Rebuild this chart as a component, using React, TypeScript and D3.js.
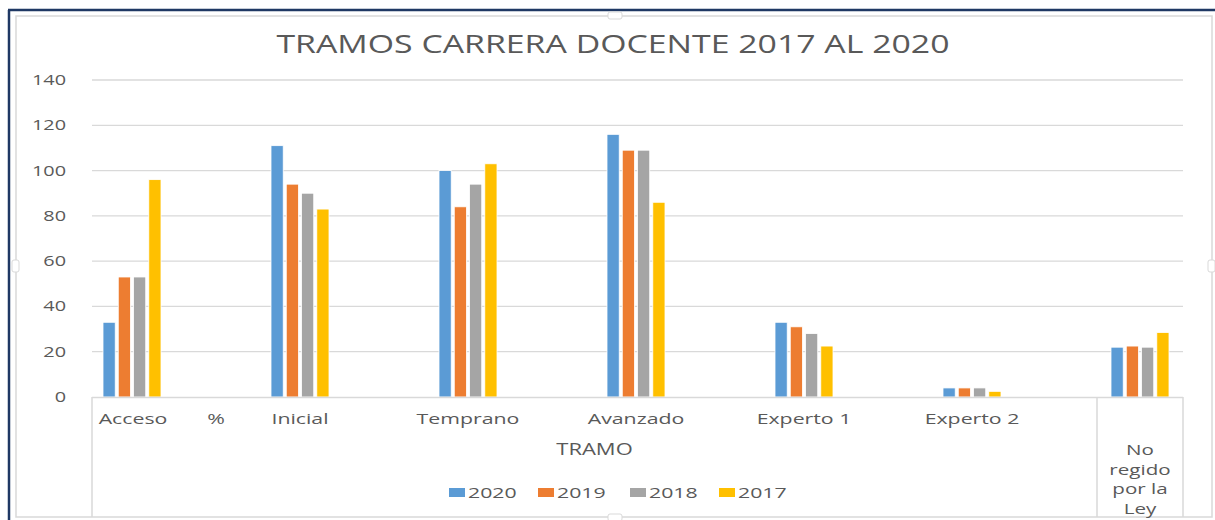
import React from 'react';
import * as d3 from 'd3';

const categories = ['Acceso', 'Inicial', 'Temprano', 'Avanzado', 'Experto 1', 'Experto 2', 'No regido por la Ley'];
const years = ['2020', '2019', '2018', '2017'];
const values2020 = [33, 111, 100, 116, 33, 4, 22];
const values2019 = [53, 94, 84, 109, 31, 4, 22.5];
const values2018 = [53, 90, 94, 109, 28, 4, 22];
const values2017 = [96, 83, 103, 86, 22.5, 2.5, 28.5];
const yTicks = [0, 20, 40, 60, 80, 100, 120, 140];
const colors = ['#5B9BD5', '#ED7D31', '#A5A5A5', '#FFC000'];

const W = 1215;
const H = 520;
const FONT = '"Open Sans", sans-serif';
const GREY = '#595959';
const SX = 1.42; // the picture is stretched sideways

function WideText(props: { x: number; y: number; size: number; anchor?: string; children: React.ReactNode }) {
    return (
        <text
            transform={`translate(${props.x},${props.y}) scale(${SX},1)`}
            fontSize={props.size}
            fontFamily={FONT}
            fill={GREY}
            textAnchor={props.anchor || 'middle'}
        >
            {props.children}
        </text>
    );
}

export default function App() {
    const series = [values2020, values2019, values2018, values2017];

    const x = d3.scaleBand().domain(categories).range([103, 1169]).paddingInner(1 - 58 / 168).paddingOuter(0);
    const xi = d3.scaleBand().domain(years).range([0, x.bandwidth()]).paddingInner(0.2);
    const y = d3.scaleLinear().domain([0, 140]).range([397, 80]);

    const plotLeft = 92;
    const plotRight = 1183;
    const noRegidoLeft = 1097;
    const cx = (c: string) => (x(c) as number) + x.bandwidth() / 2;

    const legendX = [449, 538, 630, 719];

    return (
        <svg width={W} height={H} style={{ position: 'absolute', left: 0, top: 0, display: 'block', background: '#fff' }}>
            {/* frame */}
            <rect x={16} y={16} width={1196} height={501} fill="#fff" stroke="#d9d9d9" strokeWidth={1.5} />
            <line x1={8} x2={W} y1={10} y2={10} stroke="#1F3864" strokeWidth={2.5} />
            <line x1={9} x2={9} y1={10} y2={H} stroke="#1F3864" strokeWidth={2.5} />
            <rect x={608} y={12} width={14} height={7} rx={2} fill="#fff" stroke="#d9d9d9" />
            <rect x={608} y={514} width={14} height={7} rx={2} fill="#fff" stroke="#d9d9d9" />
            <rect x={1208} y={260} width={7} height={12} rx={2} fill="#fff" stroke="#d9d9d9" />
            <rect x={12} y={260} width={7} height={12} rx={2} fill="#fff" stroke="#d9d9d9" />

            <text x={613} y={53} fontSize={25} fontFamily={FONT} fill={GREY} textAnchor="middle" textLength={673} lengthAdjust="spacingAndGlyphs">
                TRAMOS CARRERA DOCENTE 2017 AL 2020
            </text>

            {/* grid + y labels */}
            {yTicks.map((t) => (
                <g key={`tick-${t}`}>
                    {t > 0 && <line x1={plotLeft} x2={plotRight} y1={y(t)} y2={y(t)} stroke="#d9d9d9" strokeWidth={1.3} />}
                    <WideText x={66} y={y(t) + 5} size={14} anchor="end">{t}</WideText>
                </g>
            ))}

            {/* bars */}
            {categories.map((c, ci) => (
                <g key={`grp-${ci}`} transform={`translate(${x(c)},0)`}>
                    {series.map((s, si) => (
                        <rect
                            key={`bar-${ci}-${si}`}
                            x={xi(years[si])}
                            y={y(s[ci])}
                            width={xi.bandwidth()}
                            height={y(0) - y(s[ci])}
                            fill={colors[si]}
                            stroke="#fff"
                            strokeWidth={0.8}
                        />
                    ))}
                </g>
            ))}

            {/* category axis table */}
            <line x1={plotLeft} x2={plotRight} y1={397.5} y2={397.5} stroke="#d9d9d9" strokeWidth={1.5} />
            <line x1={plotLeft} x2={plotLeft} y1={397} y2={517} stroke="#d9d9d9" strokeWidth={1.5} />
            <line x1={noRegidoLeft} x2={noRegidoLeft} y1={397} y2={517} stroke="#d9d9d9" strokeWidth={1.5} />
            <line x1={plotRight} x2={plotRight} y1={397} y2={517} stroke="#d9d9d9" strokeWidth={1.5} />

            {categories.slice(0, 6).map((c, i) => (
                <WideText key={`cat-${i}`} x={cx(c) + (i === 0 ? 1 : 0)} y={424} size={15}>{c}</WideText>
            ))}
            <WideText x={(cx(categories[0]) + cx(categories[1])) / 2} y={424} size={15}>%</WideText>
            {['No', 'regido', 'por la', 'Ley'].map((w, i) => (
                <WideText key={`nr-${i}`} x={(noRegidoLeft + plotRight) / 2} y={455 + i * 19.5} size={14.5}>{w}</WideText>
            ))}
            <WideText x={(plotLeft + noRegidoLeft) / 2} y={455} size={15.5}>TRAMO</WideText>

            {/* legend */}
            {years.map((yr, i) => (
                <g key={`leg-${yr}`}>
                    <rect x={legendX[i]} y={488} width={16} height={9} fill={colors[i]} />
                    <WideText x={legendX[i] + 19} y={498} size={15} anchor="start">{yr}</WideText>
                </g>
            ))}
        </svg>
    );
}
